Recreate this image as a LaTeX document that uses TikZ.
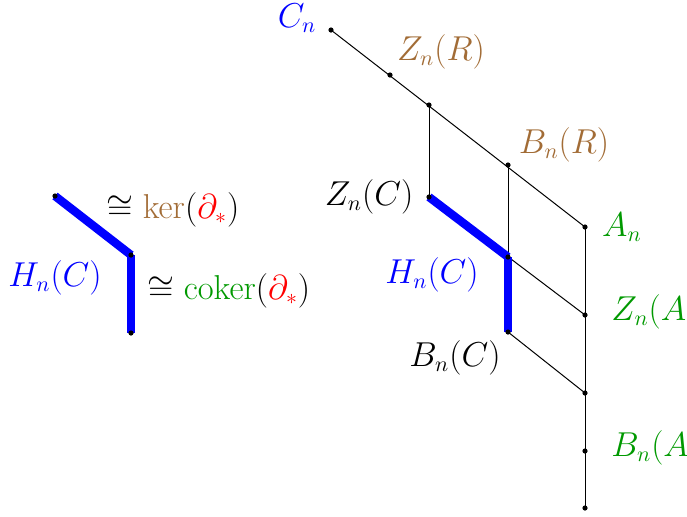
\documentclass[tikz,border=0pt]{standalone}
\begin{document}
\begin{tikzpicture}[x=0.5pt,y=-0.5pt,
  thin line/.style={line width=0.5pt,black},
  thick line/.style={line width=4.2pt,blue,line cap=butt},
  dotr/.style={fill=black},
  lbl/.style={inner sep=0pt,font=\fontsize{16}{19}\selectfont}]
\useasboundingbox (0,0) rectangle (687,516);
\colorlet{mybrown}{brown!85!black}
\colorlet{mygreen}{green!60!black}
% points
\coordinate (cn) at (331,30);
\coordinate (zr) at (390,75);
\coordinate (p) at (429,105);
\coordinate (br) at (508,165);
\coordinate (an) at (585,227);
\coordinate (zc) at (429,197);
\coordinate (j) at (508,257);
\coordinate (bc) at (508,332);
\coordinate (za) at (585,315);
\coordinate (q) at (585,393);
\coordinate (ba) at (585,451);
\coordinate (bot) at (585,508);
\coordinate (l1) at (55,196);
\coordinate (l2) at (131,255);
\coordinate (l3) at (131,333);
% thin lines
\draw[thin line] (cn) -- (an);
\draw[thin line] (p) -- (zc);
\draw[thin line] (br) -- (j);
\draw[thin line] (an) -- (bot);
\draw[thin line] (zc) -- (za);
\draw[thin line] (bc) -- (q);
% thick lines
\draw[thick line] (zc) -- (j);
\draw[thick line] (j) -- (bc);
\draw[thick line] (l1) -- (l2);
\draw[thick line] (l2) -- (l3);
% dots
\foreach \pt in {cn,zr,p,br,an,zc,j,bc,za,q,ba,bot,l1,l2,l3}
  \fill[dotr] (\pt) circle (1.3pt);
% labels
\node[lbl,text=blue] (tcn) at (297,18) {$C_n$};
\node[lbl,text=mybrown] (tzr) at (441,52) {$Z_n(R)$};
\node[lbl,text=mybrown] (tbr) at (564,145) {$B_n(R)$};
\node[lbl,text=mygreen] (tan) at (622,227) {$A_n$};
\node[lbl] (tzc) at (369,197) {$Z_n(C)$};
\node[lbl,text=blue] (thc) at (432,275) {$H_n(C)$};
\node[lbl,text=mygreen,anchor=west] (tza) at (611,312) {$Z_n(A)$};
\node[lbl] (tbc) at (455,358) {$B_n(C)$};
\node[lbl,text=mygreen,anchor=west] (tba) at (611,448) {$B_n(A)$};
\node[lbl,text=blue] (lhc) at (55,278) {$H_n(C)$};
\node[lbl,anchor=west] (ker) at (106,210) {$\cong \textcolor{mybrown}{\ker}(\textcolor{red}{\partial_*})$};
\node[lbl,anchor=west] (coker) at (147,291) {$\cong \textcolor{mygreen}{\mathrm{coker}}(\textcolor{red}{\partial_*})$};
\end{tikzpicture}
\end{document}
